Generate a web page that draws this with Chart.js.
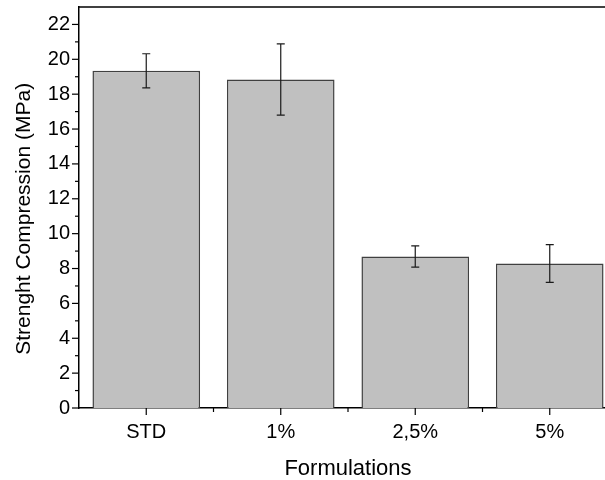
<!DOCTYPE html>
<html>
<head>
<meta charset="utf-8">
<script src="https://cdn.jsdelivr.net/npm/chart.js@4/dist/chart.umd.min.js"></script>
<style>
html,body{margin:0;padding:0;background:#fff;overflow:hidden;}
#wrap{width:640px;height:480px;}
</style>
</head>
<body>
<div id="wrap"><canvas id="c" width="640" height="480"></canvas></div>
<script>
const categories = ['STD', '1%', '2,5%', '5%'];
const strength = [19.34, 18.84, 8.69, 8.29];
const strengthErr = [0.98, 2.04, 0.61, 1.08];
const yMajorTicks = [0, 2, 4, 6, 8, 10, 12, 14, 16, 18, 20, 22];
const yMinorTicks = [1, 3, 5, 7, 9, 11, 13, 15, 17, 19, 21];
const yMax = 23;
const yTitle = 'Strenght Compression (MPa)';
const xTitle = 'Formulations';

const FONT = "'Liberation Sans', Arial, sans-serif";

const framePlugin = {
  id: 'frame',
  afterDraw(chart) {
    const ctx = chart.ctx, a = chart.chartArea;
    const ys = chart.scales.y, xs = chart.scales.x;
    ctx.save();
    ctx.strokeStyle = '#000';
    ctx.lineWidth = 1.5;
    ctx.beginPath(); ctx.moveTo(a.left, a.top); ctx.lineTo(a.right, a.top); ctx.stroke();
    ctx.lineWidth = 1.2;
    yMajorTicks.forEach(v => { const p = ys.getPixelForValue(v); ctx.beginPath(); ctx.moveTo(a.left - 7, p); ctx.lineTo(a.left, p); ctx.stroke(); });
    yMinorTicks.forEach(v => { const p = ys.getPixelForValue(v); ctx.beginPath(); ctx.moveTo(a.left - 4, p); ctx.lineTo(a.left, p); ctx.stroke(); });
    categories.forEach((c, i) => {
      const p = xs.getPixelForValue(i);
      ctx.beginPath(); ctx.moveTo(p, a.bottom); ctx.lineTo(p, a.bottom + 7); ctx.stroke();
      const q = xs.getPixelForValue(i + 0.5);
      ctx.beginPath(); ctx.moveTo(q, a.bottom); ctx.lineTo(q, a.bottom + 4); ctx.stroke();
    });
    // y axis title
    ctx.fillStyle = '#000';
    ctx.font = '21px ' + FONT;
    ctx.textAlign = 'center';
    ctx.textBaseline = 'middle';
    ctx.translate(24, ys.getPixelForValue(10.85));
    ctx.rotate(-Math.PI / 2);
    ctx.fillText(yTitle, 0, 0);
    ctx.restore();
  },
  afterDatasetsDraw(chart) {
    const ctx = chart.ctx, ys = chart.scales.y;
    const meta = chart.getDatasetMeta(0);
    ctx.save();
    ctx.strokeStyle = '#1a1a1a';
    ctx.lineWidth = 1.2;
    meta.data.forEach((bar, i) => {
      const x = bar.x;
      const t = ys.getPixelForValue(strength[i] + strengthErr[i]);
      const b = ys.getPixelForValue(strength[i] - strengthErr[i]);
      ctx.beginPath();
      ctx.moveTo(x, t); ctx.lineTo(x, b);
      ctx.moveTo(x - 4, t); ctx.lineTo(x + 4, t);
      ctx.moveTo(x - 4, b); ctx.lineTo(x + 4, b);
      ctx.stroke();
    });
    ctx.restore();
  }
};

new Chart(document.getElementById('c'), {
  type: 'bar',
  data: {
    labels: categories,
    datasets: [{
      data: strength,
      backgroundColor: '#c0c0c0',
      borderColor: '#404040',
      borderWidth: 1.5,
      borderSkipped: 'start',
      barPercentage: 0.8,
      categoryPercentage: 1.0
    }]
  },
  options: {
    responsive: false,
    animation: false,
    events: [],
    layout: { padding: { top: 7, right: 23, left: 0, bottom: 0 } },
    plugins: { legend: { display: false }, tooltip: { enabled: false } },
    scales: {
      x: {
        offset: true,
        grid: { display: false, drawTicks: false },
        border: { display: true, color: '#000', width: 1.5 },
        ticks: { color: '#000', font: { family: FONT, size: 20 }, padding: 12, maxRotation: 0 },
        title: { display: true, text: xTitle, color: '#000', font: { family: FONT, size: 22, lineHeight: 1.0 }, padding: { top: 13, bottom: 0 } },
        afterFit(s) { s.height = 72; s.paddingLeft = 0; s.paddingRight = 0; }
      },
      y: {
        min: 0, max: yMax,
        afterBuildTicks(s) { s.ticks = yMajorTicks.map(v => ({ value: v })); },
        grid: { display: false, drawTicks: false },
        border: { display: true, color: '#000', width: 1.5 },
        ticks: { color: '#000', font: { family: FONT, size: 20 }, padding: 9 },
        title: { display: false },
        afterFit(s) { s.width = 79; s.paddingTop = 0; s.paddingBottom = 0; }
      }
    }
  },
  plugins: [framePlugin]
});
</script>
</body>
</html>
